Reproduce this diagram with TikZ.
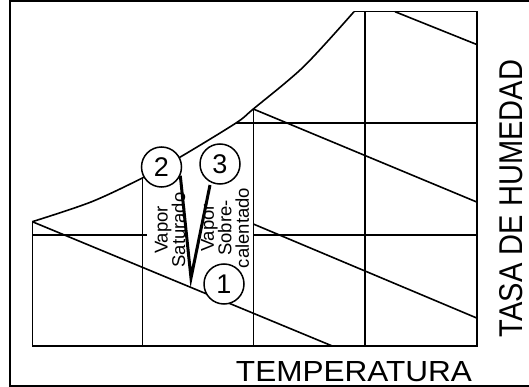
\documentclass[tikz,border=0pt]{standalone}
\usepackage{graphicx}
\usepackage{fontspec}
\setmainfont{Liberation Sans}
\usepackage{tikz}
\usetikzlibrary{positioning}

\begin{document}
\begin{tikzpicture}[x=1pt,y=-1pt]
\tikzset{grid/.style={line width=1.6pt},
  pnt/.style={circle,draw,line width=1.5pt,fill=white,minimum size=40pt,inner sep=0pt,font=\fontsize{27}{27}\selectfont},
  lbl/.style={rotate=90,align=center,inner sep=0pt,font=\fontsize{18.5}{17.5}\selectfont}}
\useasboundingbox (0,0) rectangle (529,387);
% marco
\draw[grid] (531,1) -- (10,1) -- (10,386) -- (531,386);
% curva de saturacion
\draw[grid] plot[smooth,tension=0.5] coordinates {(32.3,221.7) (91,202) (142.3,178) (182,156) (236,123) (253.3,109) (303.6,66.7) (354,11.7)};
% reticula
\draw[grid] (354,11.7) -- (476.7,11.7) -- (476.7,346) -- (32.3,346) -- (32.3,221.7);
\draw[grid] (142.3,178) -- (142.3,346);
\draw[grid] (253.3,109) -- (253.3,346);
\draw[grid] (365,11.7) -- (365,346);
\draw[grid] (32.3,235) -- (147,235);
\draw[grid] (253.3,235) -- (476.7,235);
\draw[grid] (236,123) -- (476.7,123);
% lineas inclinadas
\draw[grid] (32.3,221.7) -- (332.3,346);
\draw[grid] (253.3,109) -- (476.7,202);
\draw[grid] (253.3,224) -- (476.7,318);
\draw[grid] (395,11.7) -- (476.7,44.5);
% puntos
\node[pnt] (p2) at (161.5,167) {2};
\node[pnt] (p3) at (220,164) {3};
\node[pnt] (p1) at (224,284) {1};
\coordinate (vbot) at (191,278);
\draw[line width=3pt] (p2.-25) -- (vbot) -- (210,185);
% textos
\node[lbl] (sat) at (170,230) {Vapor\\Saturado};
\node[lbl] (sob) at (225,228) {Vapor\\Sobre-\\calentado};
\node[inner sep=0pt] (temp) at (354,371.5) {\resizebox{236pt}{20pt}{TEMPERATURA}};
\node[rotate=90,inner sep=0pt] (hum) at (511.5,198.5) {\resizebox{277pt}{23pt}{TASA DE HUMEDAD}};
\end{tikzpicture}
\end{document}
